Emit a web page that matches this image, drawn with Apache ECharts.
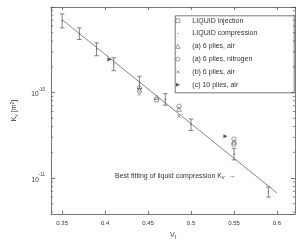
<!DOCTYPE html>
<html><head><meta charset="utf-8">
<script src="https://cdn.jsdelivr.net/npm/echarts@6/dist/echarts.min.js"></script>
<style>html,body{margin:0;padding:0;background:#fff}#c{width:300px;height:245px}</style>
</head><body><div id="c"></div>
<script>
// ---- data ----
const compX    = [0.35, 0.37, 0.39, 0.41, 0.44, 0.47, 0.50, 0.55, 0.59];
const compK    = [6.9e-10, 4.85e-10, 3.2e-10, 2.15e-10, 1.31e-10, 8.3e-11, 4.25e-11, 1.9e-11, 6.9e-12];
const compLow  = [5.7e-10, 4.17e-10, 2.69e-10, 1.8e-10, 1.11e-10, 7.1e-11, 3.6e-11, 1.63e-11, 6.0e-12];
const compHigh = [8.3e-10, 5.7e-10, 3.81e-10, 2.55e-10, 1.55e-10, 9.7e-11, 4.9e-11, 2.23e-11, 7.85e-12];
const fitX = [0.35, 0.60];
const fitK = [7.1e-10, 6.7e-12];
const injX = [0.46, 0.55];
const injK = [8.2e-11, 2.5e-11];
const a6airX = [0.44, 0.46, 0.486, 0.55];
const a6airK = [1.08e-10, 8.8e-11, 6.4e-11, 2.65e-11];
const a6n2X = [0.44, 0.486, 0.55];
const a6n2K = [1.13e-10, 6.9e-11, 2.85e-11];
const b6airX = [0.44, 0.486];
const b6airK = [9.6e-11, 5.3e-11];
const c10airX = [0.405, 0.54];
const c10airK = [2.44e-10, 3.08e-11];
const legendNames = ['LIQUID injection', 'LIQUID compression', '(a) 6 plies, air', '(a) 6 plies, nitrogen', '(b) 6 plies, air', '(c) 10 plies, air'];
const yLabelExps = [-11, -10];
const xMin = 0.337, xMax = 0.621, yMin = 3.8e-12, yMax = 1e-9;
const minorMantissas = [2, 3, 4, 5, 6, 7, 8, 9];
const minorExps = [-12, -11, -10];

const zip = (a, b) => a.map((v, i) => [v, b[i]]);
const minorVals = [];
minorExps.forEach(e => minorMantissas.forEach(m => { const v = m * Math.pow(10, e); if (v > yMin && v < yMax) minorVals.push(v); }));

const FONT = 'Liberation Sans';
const LC = '#555';
const TC = '#333';
const hollow = 'rgba(0,0,0,0)';
const BOX = 'M0,0M19,5';
const icons = [
  'path://' + BOX + 'M7.6,0.6L11.4,0.6L11.4,4.4L7.6,4.4Z',
  'path://' + BOX + 'M9,2L10,2L10,3L9,3Z',
  'path://' + BOX + 'M7.3,4.6L9.5,0.4L11.7,4.6Z',
  'path://' + BOX + 'M7.5,2.5A2,2 0 1,0 11.5,2.5A2,2 0 1,0 7.5,2.5Z',
  'path://' + BOX + 'M7.9,0.9L11.1,4.1M11.1,0.9L7.9,4.1',
  'path://' + BOX + 'M7.7,0.5L11.5,2.5L7.7,4.5Z'
];
const hollowStyle = {color: hollow, borderColor: LC, borderWidth: 0.7};
const legendStyles = [
  hollowStyle,
  {color: LC, borderWidth: 0},
  hollowStyle,
  hollowStyle,
  hollowStyle,
  {color: '#222', borderWidth: 0}
];

const chart = echarts.init(document.getElementById('c'), null, {renderer: 'canvas'});
const axisCommon = {
  axisLine: {show: true, lineStyle: {color: LC, width: 0.8}},
  splitLine: {show: false},
};
const option = {
  animation: false,
  backgroundColor: '#fff',
  textStyle: {fontFamily: FONT},
  grid: {left: 51, right: 5, top: 7, bottom: 29, containLabel: false},
  xAxis: [
    Object.assign({}, axisCommon, {
      type: 'value', min: xMin, max: xMax, position: 'bottom',
      axisTick: {show: true, inside: true, length: 3, lineStyle: {color: LC, width: 0.8}},
      axisLabel: {show: true, fontSize: 6, color: TC, margin: 6, fontFamily: FONT, showMinLabel: false, showMaxLabel: false,
        formatter: v => (Math.abs(v - xMin) < 1e-6 || Math.abs(v - xMax) < 1e-6) ? '' : String(+v.toFixed(2))},
      name: 'V{sub|f}', nameLocation: 'middle', nameGap: 17,
      nameTextStyle: {fontSize: 7, color: TC, fontFamily: FONT, rich: {sub: {fontSize: 5, verticalAlign: 'bottom', padding: [4, 0, 0, 0], color: TC}}}
    }),
    Object.assign({}, axisCommon, {
      type: 'value', min: xMin, max: xMax, position: 'top',
      axisTick: {show: true, inside: true, length: 3, lineStyle: {color: LC, width: 0.8}},
      axisLabel: {show: false}
    })
  ],
  yAxis: [
    Object.assign({}, axisCommon, {
      type: 'log', logBase: 10, min: yMin, max: yMax, position: 'left',
      axisTick: {show: true, inside: true, length: 4, lineStyle: {color: LC, width: 0.8}},
      axisLabel: {show: true, margin: 6, color: TC, fontFamily: FONT, showMinLabel: false, showMaxLabel: false,
        formatter: v => {
          const e = Math.round(Math.log10(v));
          if (Math.abs(Math.log10(v) - e) > 1e-6 || yLabelExps.indexOf(e) < 0) return '';
          return '{b|10}{s|' + e + '}';
        },
        rich: {b: {fontSize: 6.5, color: TC, fontFamily: FONT, lineHeight: 11, verticalAlign: 'bottom'},
               s: {fontSize: 4.5, color: TC, fontFamily: FONT, lineHeight: 11, verticalAlign: 'top'}}},
      name: 'K{sub|v} [m{sup|2}]', nameLocation: 'middle', nameGap: 32, nameRotate: 90,
      nameTextStyle: {fontSize: 7, color: TC, fontFamily: FONT,
        rich: {sub: {fontSize: 5, color: TC, verticalAlign: 'bottom', padding: [4, 0, 0, 0]},
               sup: {fontSize: 5, color: TC, verticalAlign: 'top', padding: [0, 0, 4, 0]}}}
    }),
    Object.assign({}, axisCommon, {
      type: 'log', logBase: 10, min: yMin, max: yMax, position: 'right',
      axisTick: {show: true, inside: true, length: 4, lineStyle: {color: LC, width: 0.8}},
      axisLabel: {show: false}
    })
  ],
  legend: {
    orient: 'vertical', left: 168, top: 16.7, padding: 0,
    itemWidth: 19, itemHeight: 5, itemGap: 4.8,
    textStyle: {fontSize: 7, color: TC, fontFamily: FONT, lineHeight: 8},
    data: legendNames.map((n, i) => ({name: n, icon: icons[i], itemStyle: legendStyles[i]}))
  },
  graphic: [
    {type: 'rect', left: 172.7, top: 13.3, shape: {width: 119, height: 77}, style: {fill: 'none', stroke: LC, lineWidth: 0.8}, z: 0},
    {type: 'text', left: 115, top: 172.5, style: {text: 'Best fitting of liquid compression K{sub|v}  \u2192', fill: TC, font: '7px ' + FONT,
      rich: {sub: {fontSize: 5, fill: TC, verticalAlign: 'bottom', padding: [4, 0, 0, 0]}}}}
  ],
  series: [
    {type: 'custom', name: 'minor', silent: true, xAxisIndex: 0, yAxisIndex: 0, clip: false,
      data: minorVals.map(v => [xMin, v]),
      renderItem: (params, api) => {
        const v = api.value(1);
        const p = api.coord([xMin, v]);
        const q = api.coord([xMax, v]);
        const st = {stroke: LC, lineWidth: 0.7};
        return {type: 'group', children: [
          {type: 'line', shape: {x1: p[0], y1: p[1], x2: p[0] + 2.2, y2: p[1]}, style: st},
          {type: 'line', shape: {x1: q[0], y1: q[1], x2: q[0] - 2.2, y2: q[1]}, style: st}
        ]};
      }
    },
    {type: 'line', name: 'fit', data: zip(fitX, fitK), showSymbol: false, symbol: 'none', silent: true,
      lineStyle: {color: '#666', width: 0.8}, z: 2},
    {type: 'custom', name: 'err', silent: true,
      data: compX.map((x, i) => [x, compLow[i], compHigh[i]]),
      encode: {x: 0, y: [1, 2]},
      renderItem: (params, api) => {
        const x = api.value(0);
        const lo = api.coord([x, api.value(1)]);
        const hi = api.coord([x, api.value(2)]);
        const st = {stroke: '#666', lineWidth: 0.8};
        const w = 2.3;
        return {type: 'group', children: [
          {type: 'line', shape: {x1: lo[0], y1: lo[1], x2: hi[0], y2: hi[1]}, style: st},
          {type: 'line', shape: {x1: hi[0] - w, y1: hi[1], x2: hi[0] + w, y2: hi[1]}, style: st},
          {type: 'line', shape: {x1: lo[0] - w, y1: lo[1], x2: lo[0] + w, y2: lo[1]}, style: st}
        ]};
      }, z: 3
    },
    {type: 'scatter', name: legendNames[0], data: zip(injX, injK), symbol: 'rect', symbolSize: 4,
      itemStyle: hollowStyle, z: 4},
    {type: 'scatter', name: legendNames[1], data: zip(compX, compK), symbol: 'circle', symbolSize: 1.5,
      itemStyle: {color: LC}, z: 4},
    {type: 'scatter', name: legendNames[2], data: zip(a6airX, a6airK), symbol: 'triangle', symbolSize: 4.5,
      itemStyle: hollowStyle, z: 4},
    {type: 'scatter', name: legendNames[3], data: zip(a6n2X, a6n2K), symbol: 'circle', symbolSize: 4.5,
      itemStyle: hollowStyle, z: 4},
    {type: 'scatter', name: legendNames[4], data: zip(b6airX, b6airK), symbol: 'path://M0,0L10,10M10,0L0,10', symbolSize: 3.5,
      itemStyle: hollowStyle, z: 4},
    {type: 'scatter', name: legendNames[5], data: zip(c10airX, c10airK), symbol: 'path://M0,0L10,5L0,10Z', symbolSize: 4,
      itemStyle: {color: '#222'}, z: 4}
  ]
};
chart.setOption(option);
</script>
</body></html>
